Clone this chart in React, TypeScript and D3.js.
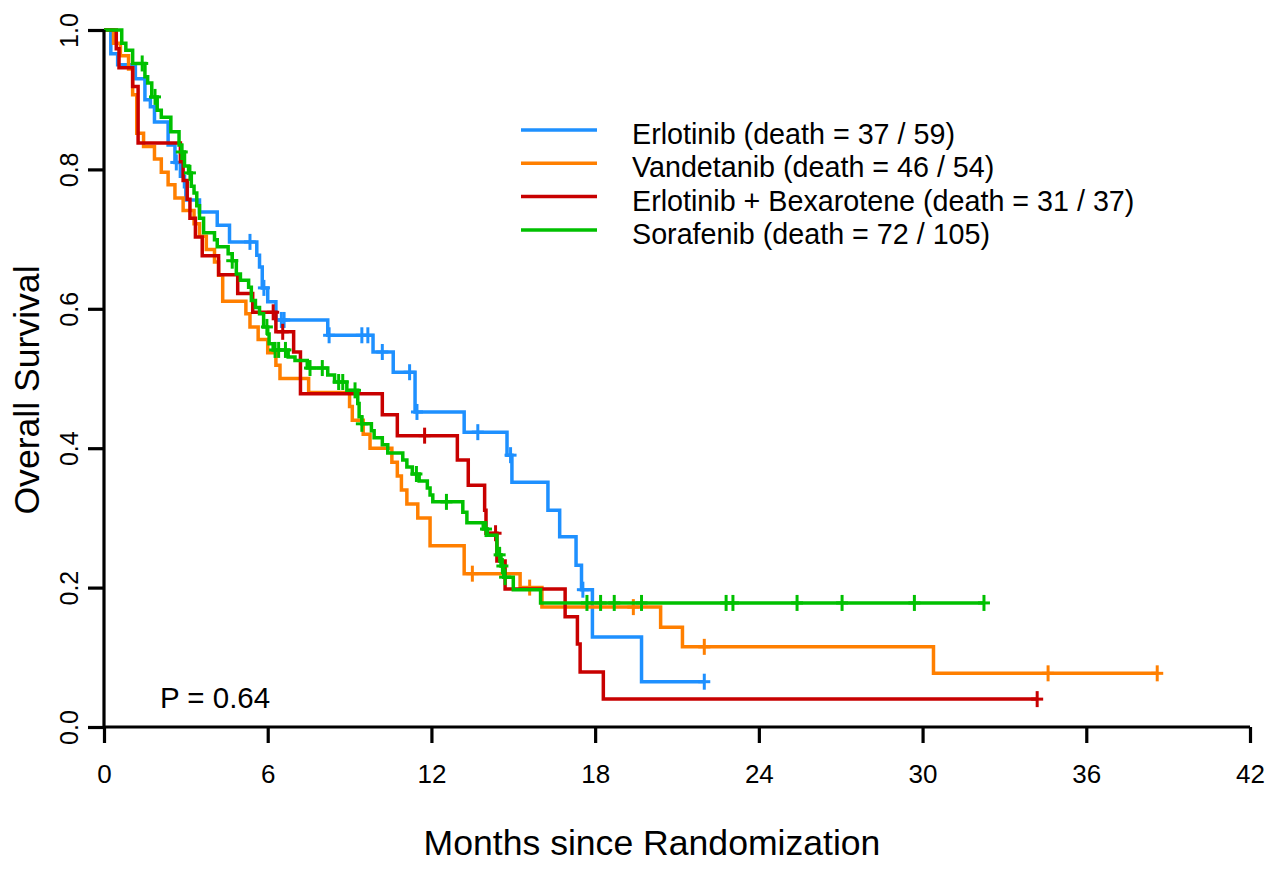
import React, { useEffect, useRef } from 'react';
import * as d3 from 'd3';

const margin = { top: 30, right: 33, bottom: 142, left: 104 };
const W = 1283;
const H = 869;
const width = W - margin.left - margin.right;
const height = H - margin.top - margin.bottom;

// months at which survival drops, and survival after the drop
const erlotinibTimes = [0.25, 0.5, 1.15, 1.5, 1.7, 1.85, 2.35, 2.6, 2.8, 2.95, 3.0, 3.5, 4.15, 4.6, 5.6, 5.7, 5.8, 6.0, 6.3, 8.2, 9.86, 10.6, 11.4, 13.2, 14.77, 14.95, 16.27, 16.7, 17.3, 17.5, 17.9, 19.7];
const erlotinibSurv = [0.966, 0.95, 0.93, 0.9, 0.89, 0.868, 0.835, 0.81, 0.79, 0.775, 0.756, 0.739, 0.72, 0.696, 0.677, 0.66, 0.63, 0.61, 0.584, 0.562, 0.538, 0.509, 0.452, 0.423, 0.39, 0.351, 0.311, 0.273, 0.232, 0.197, 0.129, 0.065];
const erlotinibCensor = [2.65, 5.35, 5.86, 6.5, 6.6, 8.25, 9.45, 9.67, 10.2, 11.2, 11.47, 13.7, 14.9, 17.55, 22.0];

const vandetanibTimes = [0.35, 0.6, 0.9, 1.05, 1.2, 1.45, 1.85, 2.1, 2.35, 2.6, 2.9, 3.3, 3.5, 3.75, 4.05, 4.2, 4.35, 5.2, 5.35, 5.65, 6.0, 6.3, 6.45, 7.5, 9.0, 9.1, 9.5, 9.75, 10.55, 10.75, 10.9, 11.1, 11.5, 11.95, 13.2, 15.25, 16.05, 20.4, 21.2, 30.4];
const vandetanibSurv = [0.981, 0.963, 0.944, 0.907, 0.852, 0.833, 0.815, 0.796, 0.778, 0.759, 0.741, 0.722, 0.704, 0.685, 0.667, 0.648, 0.611, 0.593, 0.574, 0.556, 0.537, 0.519, 0.5, 0.48, 0.46, 0.44, 0.42, 0.4, 0.38, 0.36, 0.34, 0.32, 0.3, 0.26, 0.22, 0.2, 0.172, 0.143, 0.115, 0.077];
const vandetanibCensor = [13.5, 15.6, 19.4, 22.0, 34.6, 38.6];

const bexaroteneTimes = [0.45, 0.55, 1.05, 1.25, 2.8, 2.9, 3.05, 3.15, 3.35, 3.6, 4.2, 4.9, 5.45, 6.3, 6.95, 7.2, 10.2, 10.75, 12.95, 13.35, 13.95, 14.0, 14.4, 14.7, 16.9, 17.35, 17.45, 18.3];
const bexaroteneSurv = [0.973, 0.946, 0.919, 0.838, 0.811, 0.784, 0.757, 0.73, 0.703, 0.676, 0.649, 0.622, 0.595, 0.567, 0.538, 0.478, 0.448, 0.418, 0.383, 0.347, 0.311, 0.278, 0.238, 0.198, 0.158, 0.119, 0.079, 0.04];
const bexaroteneCensor = [6.2, 6.55, 11.75, 14.35, 34.2];

const sorafenibTimes = [0.65, 0.8, 1.05, 1.5, 1.6, 1.75, 1.95, 2.1, 2.45, 2.75, 2.85, 2.95, 3.1, 3.2, 3.3, 3.4, 3.5, 3.65, 4.05, 4.15, 4.55, 4.7, 4.85, 5.0, 5.3, 5.4, 5.55, 5.7, 5.85, 6.0, 6.05, 6.2, 6.75, 7.0, 7.45, 8.2, 8.45, 8.9, 9.3, 9.35, 9.45, 9.8, 9.9, 10.2, 10.4, 10.95, 11.1, 11.3, 11.55, 11.85, 11.95, 12.05, 13.15, 13.3, 13.9, 14.05, 14.4, 14.55, 14.65, 15.0, 16.0];
const sorafenibSurv = [0.981, 0.971, 0.952, 0.933, 0.924, 0.904, 0.885, 0.875, 0.854, 0.835, 0.825, 0.805, 0.795, 0.776, 0.766, 0.748, 0.73, 0.709, 0.699, 0.689, 0.679, 0.669, 0.65, 0.641, 0.631, 0.612, 0.602, 0.593, 0.574, 0.564, 0.55, 0.541, 0.531, 0.526, 0.515, 0.505, 0.495, 0.483, 0.464, 0.445, 0.435, 0.425, 0.415, 0.405, 0.393, 0.383, 0.373, 0.363, 0.353, 0.343, 0.333, 0.323, 0.308, 0.293, 0.284, 0.275, 0.247, 0.231, 0.215, 0.197, 0.178];
const sorafenibCensor = [1.4, 1.87, 2.85, 3.15, 4.7, 5.97, 6.27, 6.4, 6.65, 7.55, 8.0, 8.6, 8.75, 9.2, 9.45, 11.45, 12.55, 14.0, 14.5, 14.6, 14.7, 17.7, 18.2, 18.7, 19.7, 22.8, 23.05, 25.4, 27.05, 29.7, 32.25];

const seriesNames = ['Erlotinib (death = 37 / 59)', 'Vandetanib (death = 46 / 54)', 'Erlotinib + Bexarotene (death = 31 / 37)', 'Sorafenib (death = 72 / 105)'];
const seriesColors = ['#1E90FF', '#FF7F00', '#C80000', '#00C000'];

const xTicks = [0, 6, 12, 18, 24, 30, 36, 42];
const yTicks = [0, 0.2, 0.4, 0.6, 0.8, 1.0];

const series = [
    { times: erlotinibTimes, surv: erlotinibSurv, censor: erlotinibCensor },
    { times: vandetanibTimes, surv: vandetanibSurv, censor: vandetanibCensor },
    { times: bexaroteneTimes, surv: bexaroteneSurv, censor: bexaroteneCensor },
    { times: sorafenibTimes, surv: sorafenibSurv, censor: sorafenibCensor },
];

export default function App() {
    const ref = useRef<SVGSVGElement>(null);

    useEffect(() => {
        const root = d3.select(ref.current);
        root.selectAll('*').remove();
        const svg = root.append('g').attr('transform', `translate(${margin.left},${margin.top})`);

        const x = d3.scaleLinear().domain([0, 42]).range([0, width]);
        const y = d3.scaleLinear().domain([0, 1]).range([height, 0]);
        const font = 'Arial, "Liberation Sans", Helvetica, sans-serif';

        // curves
        const line = d3.line<[number, number]>()
            .x(d => x(d[0]))
            .y(d => y(d[1]))
            .curve(d3.curveStepAfter);

        series.forEach((s, i) => {
            const end = d3.max(s.censor) as number;
            const pts: [number, number][] = [[0, 1]];
            s.times.forEach((t, k) => pts.push([t, s.surv[k]]));
            pts.push([Math.max(end, s.times[s.times.length - 1]), s.surv[s.surv.length - 1]]);

            svg.append('path')
                .attr('d', line(pts))
                .attr('fill', 'none')
                .attr('stroke', seriesColors[i])
                .attr('stroke-width', 3.5);

            const survAt = (t: number) => {
                const k = d3.bisectRight(s.times, t) - 1;
                return k < 0 ? 1 : s.surv[k];
            };

            const marks = svg.append('g').attr('stroke', seriesColors[i]).attr('stroke-width', 3);
            s.censor.forEach(t => {
                const cx = x(t);
                const cy = y(survAt(t));
                marks.append('line').attr('x1', cx).attr('x2', cx).attr('y1', cy - 8).attr('y2', cy + 8);
                marks.append('line').attr('x1', cx - 6).attr('x2', cx + 6).attr('y1', cy).attr('y2', cy);
            });
        });

        // axes, drawn R style
        const xAxis = svg.append('g').attr('transform', `translate(0,${height})`)
            .call(d3.axisBottom(x).tickValues(xTicks).tickSize(16).tickSizeOuter(0).tickFormat(d3.format('d')));
        xAxis.select('.domain').attr('stroke-width', 3.2).attr('d', `M0,0H${width}`);
        xAxis.selectAll('.tick line').attr('stroke-width', 3.2);
        xAxis.selectAll('.tick text')
            .attr('y', 56).attr('dy', null)
            .style('font-family', font).style('font-size', '26px').attr('fill', '#000');

        const yAxis = svg.append('g')
            .call(d3.axisLeft(y).tickValues(yTicks).tickSize(16).tickSizeOuter(0).tickFormat(d3.format('.1f')));
        yAxis.select('.domain').attr('stroke-width', 3.2).attr('d', `M0,0V${height}`);
        yAxis.selectAll('.tick line').attr('stroke-width', 3.2);
        yAxis.selectAll('.tick text')
            .attr('x', null).attr('dy', null)
            .attr('text-anchor', 'middle')
            .attr('transform', 'translate(-26,0) rotate(-90)')
            .style('font-family', font).style('font-size', '25px').attr('fill', '#000');

        // titles
        svg.append('text')
            .attr('x', 652 - margin.left).attr('y', height + 128)
            .attr('text-anchor', 'middle')
            .style('font-family', font).style('font-size', '35.6px')
            .text('Months since Randomization');

        svg.append('text')
            .attr('transform', `translate(${39 - margin.left},${390 - margin.top}) rotate(-90)`)
            .attr('text-anchor', 'middle')
            .style('font-family', font).style('font-size', '35.6px')
            .text('Overall Survival');

        // legend
        const legend = svg.append('g').attr('transform', `translate(${521 - margin.left},${130 - margin.top})`);
        seriesNames.forEach((name, i) => {
            const ly = i * 33.3;
            legend.append('line')
                .attr('x1', 0).attr('x2', 76).attr('y1', ly).attr('y2', ly)
                .attr('stroke', seriesColors[i]).attr('stroke-width', 3.5);
            legend.append('text')
                .attr('x', 111).attr('y', ly + 14)
                .style('font-family', font).style('font-size', '28.7px')
                .text(name);
        });

        svg.append('text')
            .attr('x', 160 - margin.left).attr('y', 708 - margin.top)
            .style('font-family', font).style('font-size', '29.5px')
            .text('P = 0.64');
    }, []);

    return (
        <div style={{ position: 'absolute', left: 0, top: 0, background: '#fff' }}>
            <svg ref={ref} width={W} height={H} style={{ display: 'block' }} />
        </div>
    );
}
